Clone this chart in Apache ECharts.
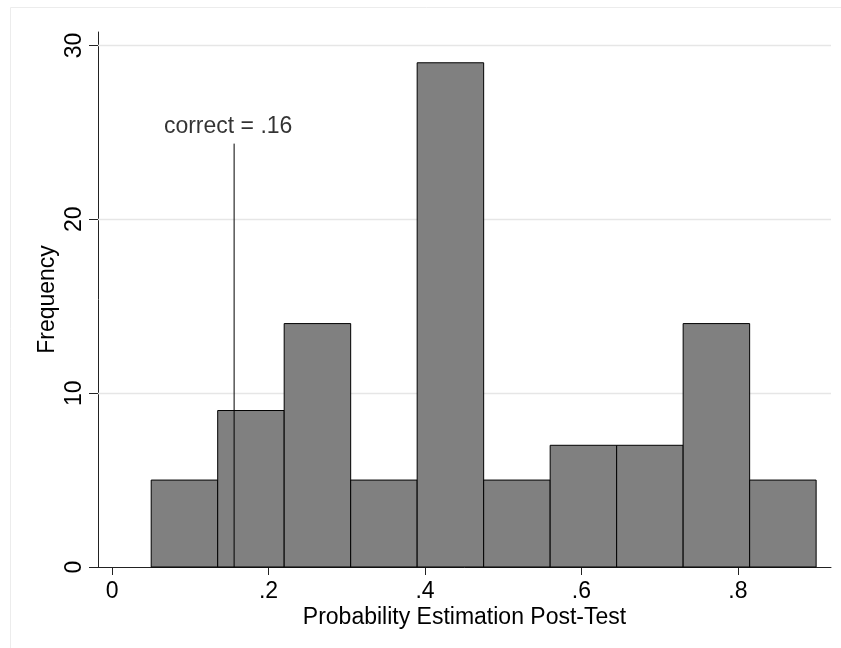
<!DOCTYPE html>
<html>
<head>
<meta charset="utf-8">
<script src="https://cdn.jsdelivr.net/npm/echarts@6/dist/echarts.min.js"></script>
<style>
html,body{margin:0;padding:0;background:#fff;}
#chart{width:841px;height:648px;}
</style>
</head>
<body>
<div id="chart"></div>
<script>
// Histogram bins (start of each bin) and bin width
const binStarts = [0.05, 0.135, 0.22, 0.305, 0.39, 0.475, 0.56, 0.645, 0.73, 0.815];
const binWidth = 0.085;
const counts = [5, 9, 14, 5, 29, 5, 7, 7, 14, 5];
const xTicks = [0, 0.2, 0.4, 0.6, 0.8];
const yTicks = [0, 10, 20, 30];
const gridValues = [10, 20, 30];
const correctValue = 0.156;
const correctLabel = 'correct = .16';
const refLineTop = 24.35;

const FONT = "'Liberation Sans', Arial, Helvetica, sans-serif";
const chart = echarts.init(document.getElementById('chart'));

const histData = binStarts.map((s, i) => [s, s + binWidth, counts[i]]);

function fmtTick(v) {
  if (v === 0) return '0';
  return String(+v.toFixed(2)).replace(/^0\./, '.');
}

chart.setOption({
  animation: false,
  backgroundColor: '#fff',
  graphic: [{
    type: 'rect',
    shape: {x: 10.5, y: 7.5, width: 840, height: 650},
    style: {fill: 'none', stroke: '#ececec', lineWidth: 1},
    silent: true, z: -1
  }],
  grid: {left: 98, right: 10, top: 32, bottom: 81, containLabel: false},
  xAxis: {
    type: 'value',
    min: -0.018,
    max: 0.919,
    name: 'Probability Estimation Post-Test',
    nameLocation: 'middle',
    nameGap: 39,
    nameMoveOverlap: false,
    nameTextStyle: {fontFamily: FONT, fontSize: 23, color: '#000'},
    axisLine: {show: true, onZero: false, lineStyle: {color: '#222', width: 1}},
    axisTick: {show: true, length: 8, customValues: xTicks, lineStyle: {color: '#222'}},
    axisLabel: {show: true, customValues: xTicks, margin: 13, fontFamily: FONT, fontSize: 23, color: '#000', formatter: fmtTick},
    splitLine: {show: false}
  },
  yAxis: {
    type: 'value',
    min: 0,
    max: 30.77,
    interval: 10,
    name: 'Frequency',
    nameLocation: 'middle',
    nameGap: 39,
    nameMoveOverlap: false,
    nameTextStyle: {fontFamily: FONT, fontSize: 23, color: '#000'},
    axisLine: {show: true, onZero: false, lineStyle: {color: '#222', width: 1}},
    axisTick: {show: true, length: 9, customValues: yTicks, lineStyle: {color: '#222'}},
    axisLabel: {show: true, rotate: 90, margin: 12, customValues: yTicks, fontFamily: FONT, fontSize: 23, color: '#000'},
    splitLine: {show: false}
  },
  series: [
    {
      type: 'line',
      data: [],
      z: 1,
      markLine: {
        silent: true,
        z: 1,
        symbol: ['none', 'none'],
        label: {show: false},
        lineStyle: {color: '#e6e6e6', width: 1.3, type: 'solid'},
        data: gridValues.map(v => ({yAxis: v}))
      }
    },
    {
      type: 'custom',
      data: histData,
      encode: {x: [0, 1], y: 2},
      renderItem: function (params, api) {
        const p0 = api.coord([api.value(0), 0]);
        const p1 = api.coord([api.value(1), api.value(2)]);
        return {
          type: 'rect',
          shape: {x: p0[0], y: p1[1], width: p1[0] - p0[0], height: p0[1] - p1[1]},
          style: {fill: '#808080', stroke: '#000', lineWidth: 1}
        };
      },
      z: 3
    },
    {
      type: 'line',
      data: [[correctValue, 0], [correctValue, refLineTop]],
      symbol: 'none',
      lineStyle: {color: '#000', width: 1},
      z: 5,
      label: {show: false}
    },
    {
      type: 'scatter',
      data: [[correctValue, refLineTop]],
      symbolSize: 0,
      z: 6,
      label: {
        show: true, position: 'top', distance: 5, offset: [-6, 0],
        formatter: correctLabel,
        fontFamily: FONT, fontSize: 23, color: '#000'
      }
    }
  ]
});
</script>
</body>
</html>
